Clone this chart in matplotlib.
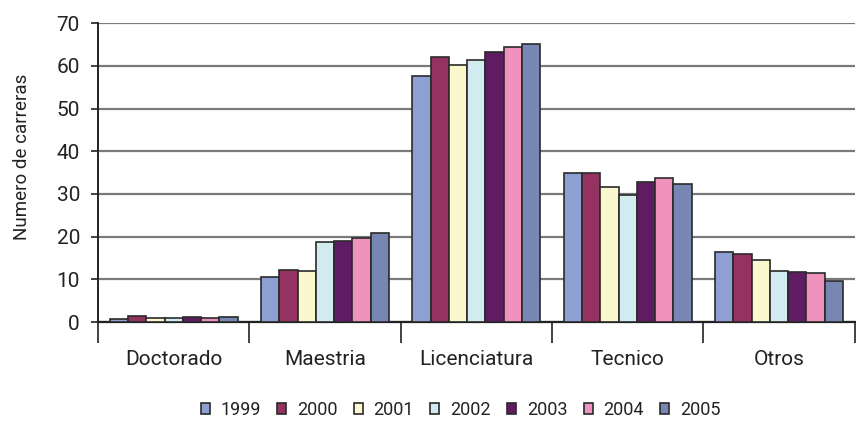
import matplotlib
matplotlib.use("Agg")
import matplotlib.pyplot as plt
import numpy as np

categories = ["Doctorado", "Maestria", "Licenciatura", "Tecnico", "Otros"]
years = ["1999", "2000", "2001", "2002", "2003", "2004", "2005"]

v1999 = [0.8, 10.5, 57.6, 34.9, 16.5]
v2000 = [1.4, 12.2, 62.0, 34.9, 15.9]
v2001 = [1.0, 12.0, 60.1, 31.7, 14.6]
v2002 = [1.0, 18.7, 61.3, 29.8, 11.9]
v2003 = [1.3, 19.0, 63.3, 32.7, 11.8]
v2004 = [1.0, 19.7, 64.5, 33.8, 11.6]
v2005 = [1.3, 20.8, 65.1, 32.4, 9.7]
series = [v1999, v2000, v2001, v2002, v2003, v2004, v2005]

colors = ["#8EA0D2", "#943262", "#FAF8CC", "#D2EBF0", "#601C62", "#F092BE", "#7886B4"]

plt.rcParams["font.family"] = ["Roboto", "DejaVu Sans"]
plt.rcParams["text.color"] = "#222222"

fig = plt.figure(figsize=(8.56, 4.21), dpi=100)
ax = fig.add_axes([0.1145, 0.235, 0.884, 0.71])

n = len(series)
group_w = 0.845
bw = group_w / n
x = np.arange(len(categories))
for i, (vals, c, yr) in enumerate(zip(series, colors, years)):
    ax.bar(x - group_w / 2 + bw * (i + 0.5), vals, width=bw, color=c,
           edgecolor="#2a2a2a", linewidth=1.2, label=yr, zorder=3)

ax.set_xlim(-0.5, len(categories) - 0.5)
ax.set_ylim(0, 70)
ax.set_yticks(np.arange(0, 71, 10))
ax.tick_params(axis="y", labelsize=15, length=5, width=1.2, pad=8,
               direction="out", color="#222222", labelcolor="#222222")
ax.yaxis.grid(True, color="#7a7a7a", linewidth=1.6, zorder=0)
ax.set_axisbelow(True)

# category labels centred, boundary ticks between groups
ax.set_xticks(np.arange(-0.5, len(categories), 1.0))
ax.set_xticklabels([])
ax.set_xticks(x, minor=True)
ax.set_xticklabels(categories, minor=True, fontsize=15, color="#222222")
ax.tick_params(axis="x", which="major", length=15, width=1.2, color="#222222")
ax.tick_params(axis="x", which="minor", length=0, pad=20)

for s in ["top", "right"]:
    ax.spines[s].set_visible(False)
ax.spines["left"].set_linewidth(1.4)
ax.spines["bottom"].set_linewidth(1.6)
ax.spines["left"].set_color("#222222")
ax.spines["bottom"].set_color("#222222")

ax.set_ylabel("Numero de carreras", fontsize=13.5, color="#222222")
ax.yaxis.set_label_coords(-0.0885, 0.552)

handles, labels = ax.get_legend_handles_labels()
leg = fig.legend(handles, labels, loc="center", bbox_to_anchor=(0.538, 0.026),
                 ncol=7, frameon=False, fontsize=13, handlelength=0.5,
                 handleheight=0.5, handletextpad=0.6, columnspacing=0.9)

fig.savefig("out.png", dpi=100)
